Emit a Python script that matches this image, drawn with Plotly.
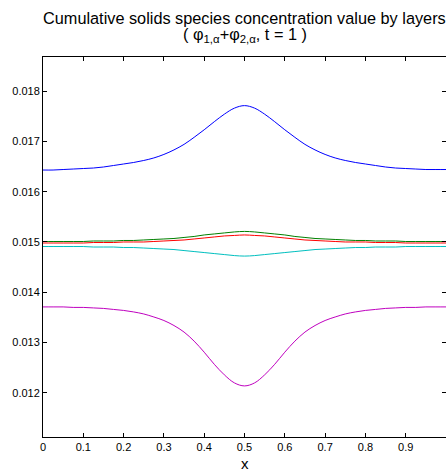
import plotly.graph_objects as go

x = [0.0, 0.025, 0.05, 0.075, 0.1, 0.125, 0.15, 0.175, 0.2, 0.225, 0.25, 0.275, 0.3, 0.325, 0.35, 0.375, 0.4,
     0.425, 0.45, 0.475, 0.5, 0.525, 0.55, 0.575, 0.6, 0.625, 0.65, 0.675, 0.7, 0.725, 0.75, 0.775, 0.8,
     0.825, 0.85, 0.875, 0.9, 0.925, 0.95, 0.975, 1.0]

blue = [0.01643, 0.01643, 0.01644, 0.01645, 0.01646, 0.01647, 0.01649, 0.01652, 0.01655, 0.01658, 0.01662,
        0.01667, 0.01674, 0.01683, 0.01694, 0.01708, 0.01723, 0.01739, 0.01754, 0.01766, 0.01771,
        0.01766, 0.01754, 0.01739, 0.01723, 0.01708, 0.01694, 0.01683, 0.01674, 0.01667, 0.01662,
        0.01658, 0.01655, 0.01652, 0.01649, 0.01647, 0.01646, 0.01645, 0.01644, 0.01644, 0.01644]
green = [0.01501, 0.01501, 0.01501, 0.01501, 0.01501, 0.01502, 0.01502, 0.01502, 0.01503, 0.01503, 0.01504,
         0.01505, 0.01506, 0.01507, 0.01509, 0.01511, 0.01514, 0.01516, 0.01518, 0.01520, 0.01521,
         0.01520, 0.01518, 0.01516, 0.01514, 0.01511, 0.01509, 0.01507, 0.01506, 0.01505, 0.01504,
         0.01503, 0.01503, 0.01502, 0.01502, 0.01502, 0.01501, 0.01501, 0.01501, 0.01501, 0.01501]
red = [0.01498, 0.01498, 0.01498, 0.01498, 0.01498, 0.01499, 0.01499, 0.01499, 0.01500, 0.01500, 0.01500,
       0.01501, 0.01502, 0.01503, 0.01504, 0.01506, 0.01508, 0.01510, 0.01512, 0.01513, 0.01514,
       0.01513, 0.01512, 0.01510, 0.01508, 0.01506, 0.01504, 0.01503, 0.01502, 0.01501, 0.01500,
       0.01500, 0.01500, 0.01499, 0.01499, 0.01499, 0.01498, 0.01498, 0.01498, 0.01498, 0.01498]
cyan = [0.01491, 0.01491, 0.01491, 0.01491, 0.01491, 0.01490, 0.01490, 0.01490, 0.01489, 0.01489, 0.01488,
        0.01487, 0.01486, 0.01485, 0.01483, 0.01481, 0.01479, 0.01477, 0.01475, 0.01473, 0.01472,
        0.01473, 0.01475, 0.01477, 0.01479, 0.01481, 0.01483, 0.01485, 0.01486, 0.01487, 0.01488,
        0.01489, 0.01489, 0.01490, 0.01490, 0.01490, 0.01491, 0.01491, 0.01491, 0.01491, 0.01491]
magenta = [0.01371, 0.01371, 0.01371, 0.01370, 0.01370, 0.01369, 0.01368, 0.01366, 0.01364, 0.01361, 0.01357,
           0.01351, 0.01344, 0.01334, 0.01321, 0.01303, 0.01281, 0.01257, 0.01236, 0.01220, 0.01214,
           0.01220, 0.01236, 0.01257, 0.01281, 0.01303, 0.01321, 0.01334, 0.01344, 0.01351, 0.01357,
           0.01361, 0.01364, 0.01366, 0.01368, 0.01369, 0.01370, 0.01370, 0.01371, 0.01371, 0.01371]

x_ticks = [0, 0.1, 0.2, 0.3, 0.4, 0.5, 0.6, 0.7, 0.8, 0.9, 1.0]
x_tick_labels = ["0", "0.1", "0.2", "0.3", "0.4", "0.5", "0.6", "0.7", "0.8", "0.9", "1"]
y_ticks = [0.012, 0.013, 0.014, 0.015, 0.016, 0.017, 0.018]
y_tick_labels = ["0.012", "0.013", "0.014", "0.015", "0.016", "0.017", "0.018"]

title_line1 = "Cumulative solids species concentration value by layers"
title_line2 = "( φ<sub>1,α</sub>+φ<sub>2,α</sub>, t = 1 )"
x_title = "x"

series = [
    (blue, "#0000ff"),
    (green, "#008000"),
    (red, "#ff0000"),
    (cyan, "#00bfbf"),
    (magenta, "#bf00bf"),
]

fig = go.Figure()
for vals, col in series:
    fig.add_trace(go.Scatter(x=x, y=vals, mode="lines", line=dict(color=col, width=1, shape="spline"),
                             showlegend=False, hoverinfo="skip"))

font_family = "Liberation Sans, Arial, Helvetica, sans-serif"
H, T, B = 473, 57, 36
plot_h = H - T - B


def paper_y(px):
    return (H - B - px) / plot_h


fig.update_layout(
    width=446, height=473,
    margin=dict(l=43, r=0, t=T, b=B, autoexpand=False),
    paper_bgcolor="white", plot_bgcolor="white",
    font=dict(family=font_family, size=11, color="black"),
    xaxis=dict(
        range=[0, 1], tickvals=x_ticks, ticktext=x_tick_labels, automargin=False,
        ticks="inside", ticklen=4, tickcolor="black", tickwidth=1,
        showline=True, linecolor="black", linewidth=1, mirror="ticks",
        showgrid=False, zeroline=False,
    ),
    yaxis=dict(
        range=[0.011125, 0.018676], tickvals=y_ticks, ticktext=y_tick_labels, automargin=False,
        ticks="inside", ticklen=4, tickcolor="black", tickwidth=1,
        showline=True, linecolor="black", linewidth=1, mirror="ticks",
        showgrid=False, zeroline=False,
    ),
    annotations=[
        dict(text=title_line1, x=0.5, xref="paper", y=paper_y(18), yref="paper",
             xanchor="center", yanchor="middle", showarrow=False,
             font=dict(family=font_family, size=16.3, color="black")),
        dict(text=title_line2, x=0.5, xref="paper", y=paper_y(35), yref="paper",
             xanchor="center", yanchor="middle", showarrow=False,
             font=dict(family=font_family, size=16.3, color="black")),
        dict(text=x_title, x=0.5, xref="paper", y=paper_y(463), yref="paper",
             xanchor="center", yanchor="middle", showarrow=False,
             font=dict(family=font_family, size=15, color="black")),
    ],
)

fig.write_html("out.html", config={"displayModeBar": False},
               post_script="document.body.style.margin='0';document.body.style.overflow='hidden';")
